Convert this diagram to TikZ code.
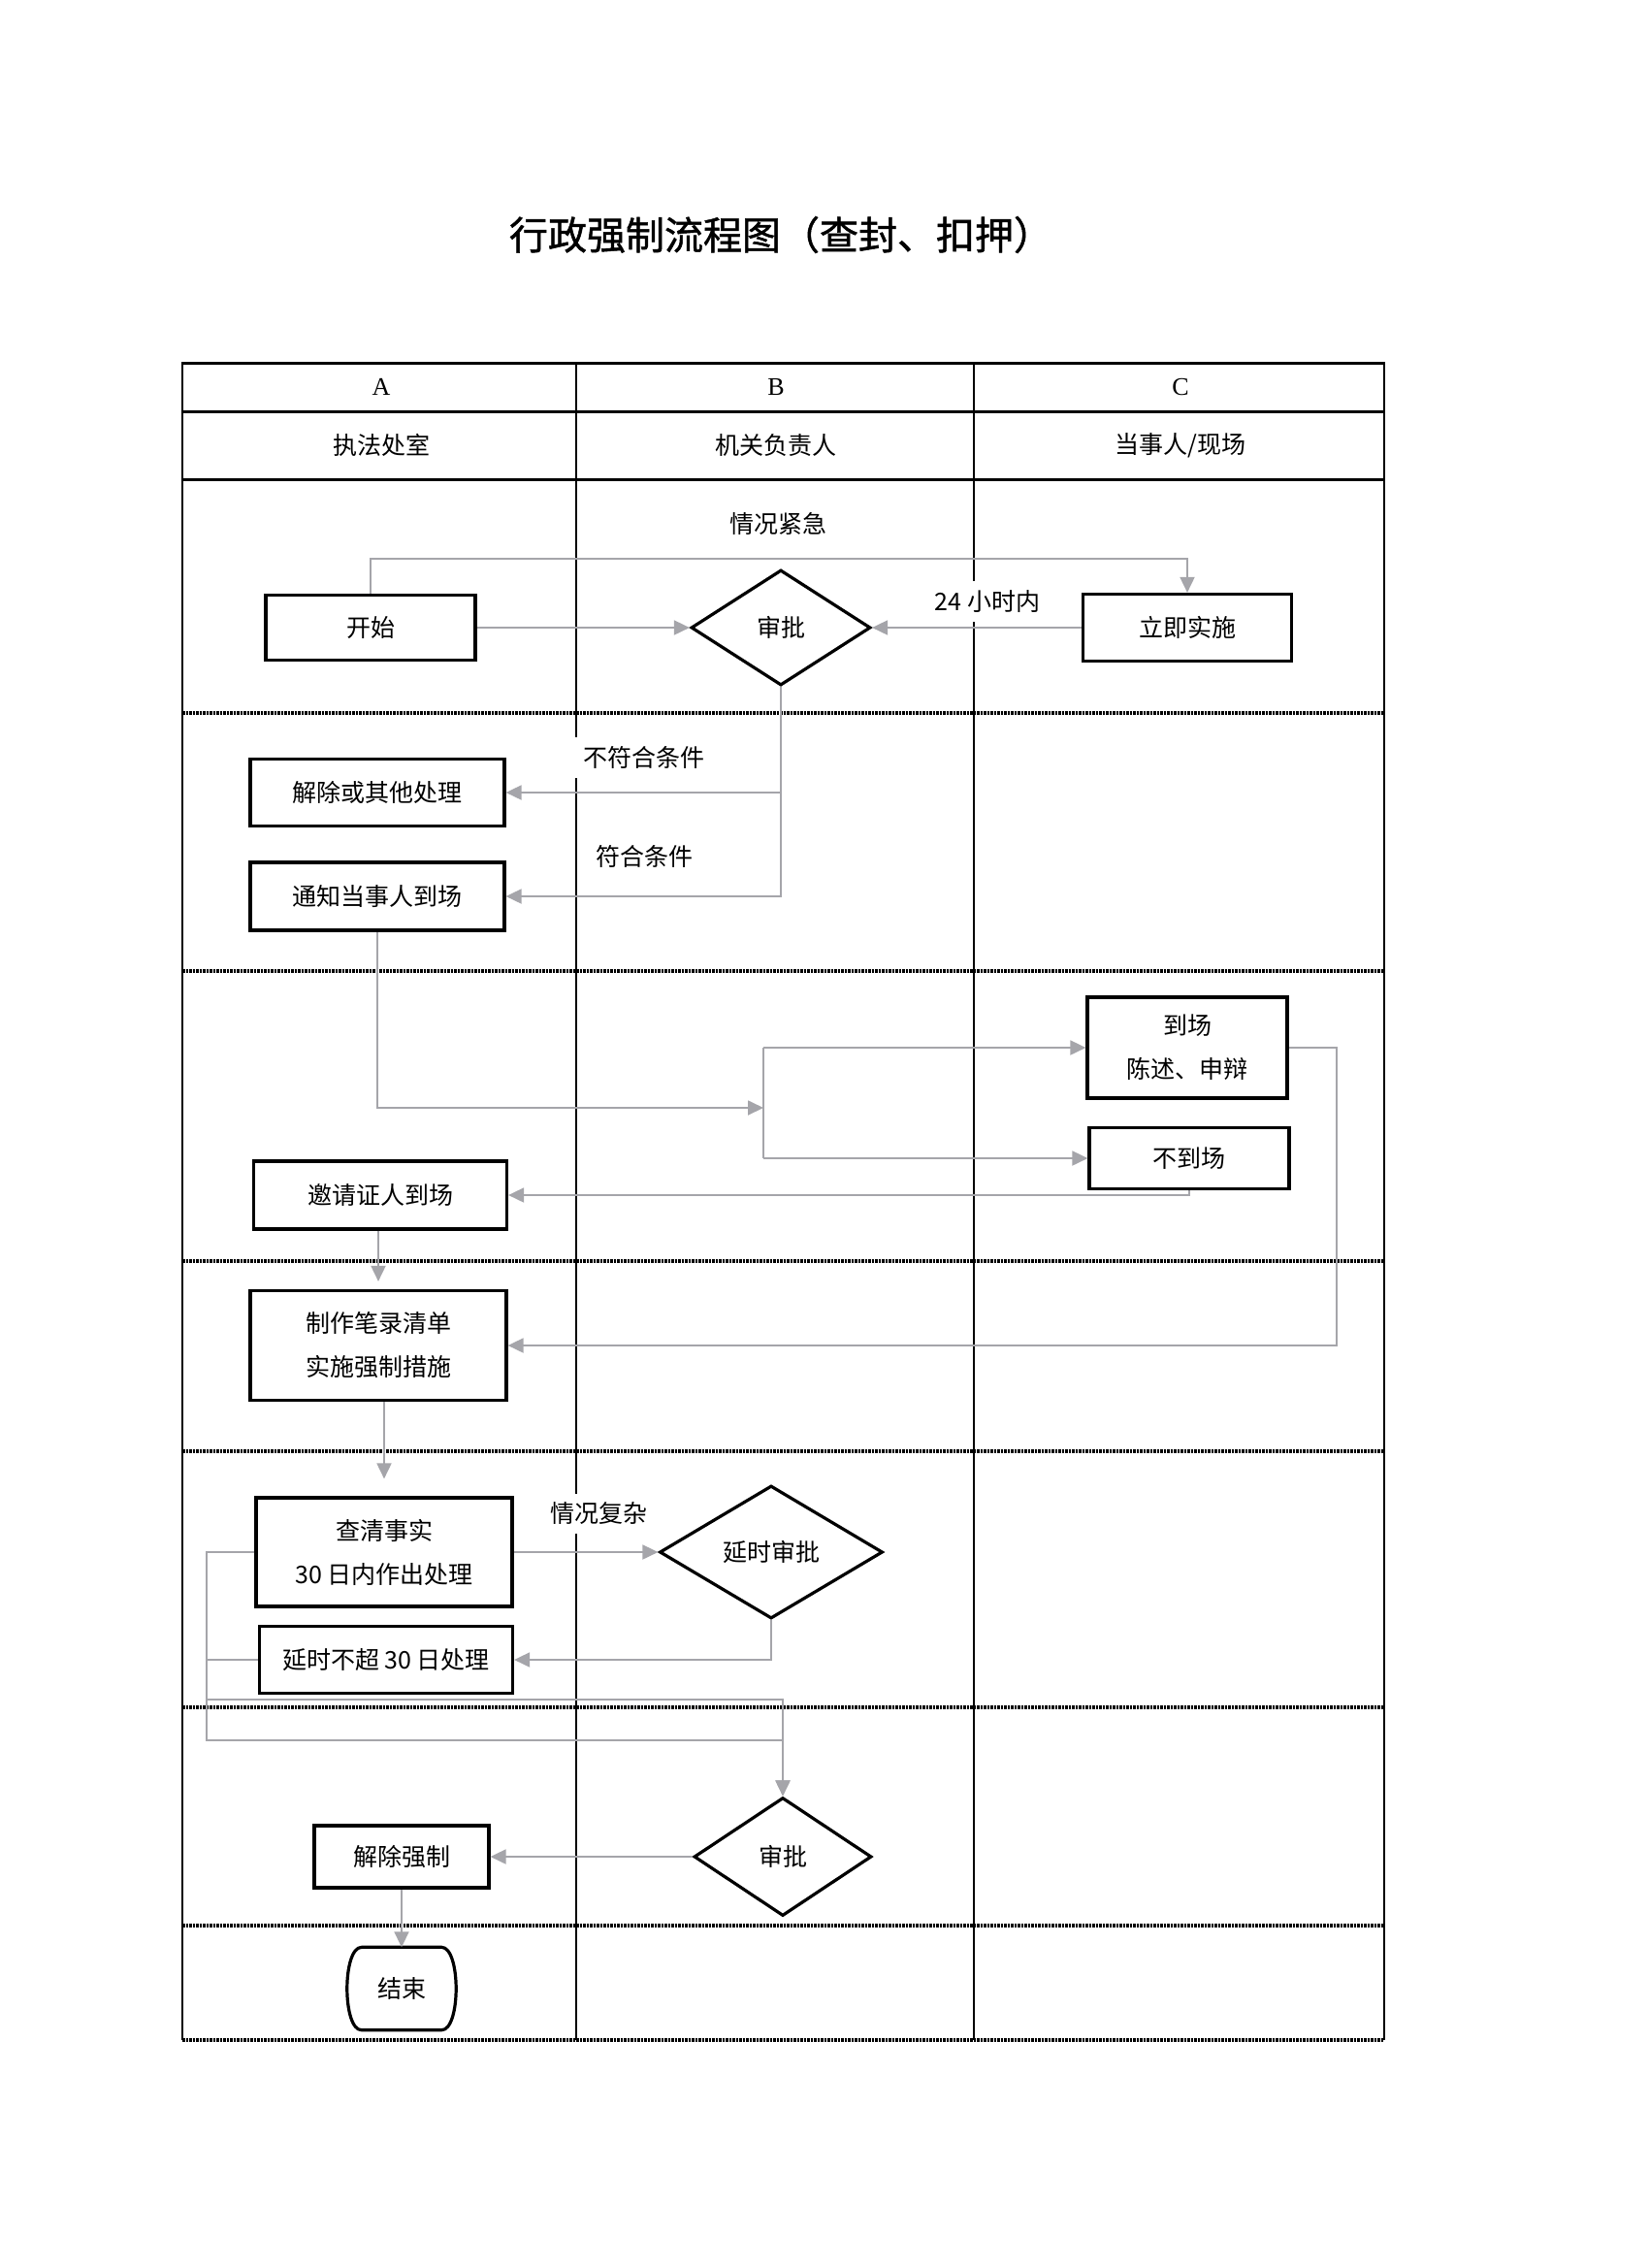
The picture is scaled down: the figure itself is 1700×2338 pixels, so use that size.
\documentclass[tikz,border=0pt]{standalone}
\usepackage{fontspec}
\newfontfamily\cjk{Noto Sans CJK SC}
\newfontfamily\cjkt[FakeBold=1.2]{Noto Sans CJK SC}
\newfontfamily\lat{Liberation Serif}
\usetikzlibrary{shapes.geometric,arrows.meta}
\definecolor{conc}{RGB}{165,165,170}
\begin{document}
\begin{tikzpicture}[x=1pt,y=-1pt,
  txt/.style={font=\cjk\fontsize{25}{45}\selectfont, align=center},
  proc/.style={txt, draw=black, line width=3.2pt, inner sep=0pt},
  dec/.style={txt, diamond, draw=black, line width=3.2pt, inner sep=0pt},
  lbl/.style={txt, fill=white, inner sep=9pt},
  hdr/.style={font=\cjk\fontsize{25}{30}\selectfont},
  link/.style={draw=conc, line width=1.8pt},
  conn/.style={draw=conc, line width=1.8pt, -{Triangle[length=16pt,width=15pt]}},
  thinl/.style={line width=1.6pt},
  thickl/.style={line width=3pt},
  sep/.style={line width=3.4pt, dash pattern=on 2.5pt off 1pt}]
\useasboundingbox (0,0) rectangle (1700,2338);
\fill[white] (0,0) rectangle (1700,2338);

% title
\node[font=\cjkt\fontsize{40}{48}\selectfont] (title) at (805,242) {行政强制流程图（查封、扣押）};

% table
\draw[thinl] (188,374) -- (188,2103);
\draw[thinl] (1427,374) -- (1427,2103);
\draw[thinl] (594,374) -- (594,2103);
\draw[thinl] (1004,374) -- (1004,2103);
\draw[thickl] (187,374) -- (1428,374);
\draw[thickl] (188,424) -- (1427,424);
\draw[thickl] (188,494) -- (1427,494);
\foreach \yy in {735,1001,1300,1496,1760,1985,2103}
  \draw[sep] (188,\yy) -- (1427,\yy);

% header
\node[font=\lat\fontsize{26}{30}\selectfont] (hA) at (393,399) {A};
\node[font=\lat\fontsize{26}{30}\selectfont] (hB) at (800,399) {B};
\node[font=\lat\fontsize{26}{30}\selectfont] (hC) at (1217,399) {C};
\node[hdr] (hA2) at (393,459) {执法处室};
\node[hdr] (hB2) at (800,459) {机关负责人};
\node[hdr] (hC2) at (1217,459) {当事人/现场};

% row 1
\node[proc, minimum width=216pt, minimum height=67pt] (start) at (382,647) {开始};
\node[dec, minimum width=185pt, minimum height=119pt] (sp1) at (805,647) {审批};
\node[proc, minimum width=215pt, minimum height=69pt] (ljss) at (1224,647) {立即实施};
\node[lbl] (qkjj) at (802,540) {情况紧急};
\node[lbl] (h24) at (1018,620) {24 小时内};
\coordinate (t1) at (0,576);
\draw[conn] (start.north) -- (start.north |- t1) -| (ljss.north);
\draw[conn] (start.east) -- (sp1.west);
\draw[conn] (ljss.west) -- (sp1.east);

% row 2
\node[proc, minimum width=262pt, minimum height=69pt] (jc) at (389,817) {解除或其他处理};
\node[proc, minimum width=262pt, minimum height=70pt] (tz) at (389,924) {通知当事人到场};
\draw[conn] (sp1.south) |- (jc.east);
\draw[conn] (sp1.south) |- (tz.east);
\node[lbl] (bfh) at (664,781) {不符合条件};
\node[lbl] (fh) at (664,883) {符合条件};

% row 3
\node[proc, minimum width=206pt, minimum height=104pt] (dc) at (1224,1080) {到场\\陈述、申辩};
\node[proc, minimum width=206pt, minimum height=63pt] (bdc) at (1226,1194) {不到场};
\node[proc, minimum width=261pt, minimum height=70pt] (yq) at (392,1232) {邀请证人到场};
\coordinate (br) at (787,1142);
\draw[conn] (tz.south) |- (br);
\draw[link] (br |- dc.west) -- (br |- bdc.west);
\draw[conn] (br |- dc.west) -- (dc.west);
\draw[conn] (br |- bdc.west) -- (bdc.west);
\draw[conn] (bdc.south) |- (yq.east);

% row 4
\node[proc, minimum width=264pt, minimum height=113pt] (zz) at (390,1387) {制作笔录清单\\实施强制措施};
\draw[conn, shorten >=8pt] (yq.south -| zz.north) -- (zz.north);
\coordinate (rx) at (1378,0);
\draw[conn] (dc.east) -- (dc.east -| rx) |- (zz.east);

% row 5
\node[proc, minimum width=264pt, minimum height=112pt] (cq) at (396,1600) {查清事实\\30 日内作出处理};
\draw[conn, shorten >=18pt] (zz.south -| cq.north) -- (cq.north);
\node[dec, minimum width=230pt, minimum height=137pt] (ysp) at (795,1600) {延时审批};
\draw[conn] (cq.east) -- (ysp.west);
\node[lbl] (qkfz) at (617,1560) {情况复杂};
\node[proc, minimum width=261pt, minimum height=69pt] (ys) at (398,1711) {延时不超 30 日处理};
\draw[conn] (ysp.south) |- (ys.east);

% row 6
\node[dec, minimum width=183pt, minimum height=122pt] (sp2) at (807,1914) {审批};
\node[proc, minimum width=180pt, minimum height=64pt] (jcqz) at (414,1914) {解除强制};
\coordinate (l1) at (213,1752);
\coordinate (l2) at (213,1794);
\draw[conn] (cq.west) -| (l2) -- (l2 -| sp2.north) -- (sp2.north);
\draw[conn] (ys.west) -| (l1) -- (l1 -| sp2.north) -- (sp2.north);
\draw[conn] (sp2.west) -- (jcqz.east);

% row 7
\node[txt, minimum width=106pt, minimum height=85pt, inner sep=0pt] (end) at (414,2050) {结束};
\draw[line width=3.2pt] ([xshift=12pt]end.north west) -- ([xshift=-12pt]end.north east)
  .. controls ([xshift=8pt]end.north east) and ([xshift=8pt]end.south east) .. ([xshift=-12pt]end.south east)
  -- ([xshift=12pt]end.south west)
  .. controls ([xshift=-8pt]end.south west) and ([xshift=-8pt]end.north west) .. cycle;
\draw[conn] (jcqz.south) -- (end.north);
\end{tikzpicture}
\end{document}
